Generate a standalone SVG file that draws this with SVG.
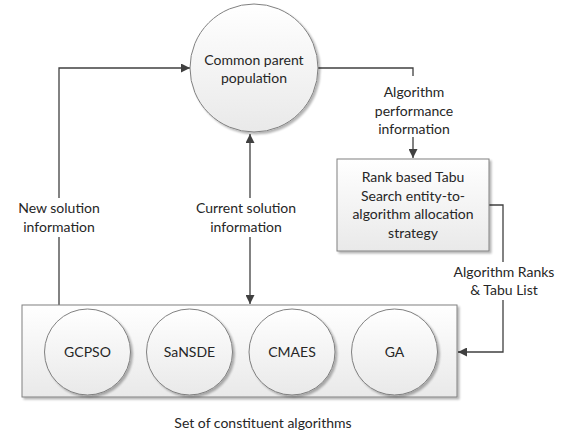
<svg xmlns="http://www.w3.org/2000/svg" width="564" height="436" viewBox="0 0 564 436">
<defs>
<linearGradient id="g" x1="0" y1="0" x2="0" y2="1">
<stop offset="0" stop-color="#ffffff"/>
<stop offset="1" stop-color="#e9e9e9"/>
</linearGradient>
<filter id="sh" x="-10%" y="-10%" width="130%" height="130%">
<feGaussianBlur in="SourceAlpha" stdDeviation="1.2"/>
<feOffset dx="1.5" dy="1.5" result="b"/>
<feComponentTransfer><feFuncA type="linear" slope="0.3"/></feComponentTransfer>
<feMerge><feMergeNode/><feMergeNode in="SourceGraphic"/></feMerge>
</filter>
<marker id="ah" viewBox="0 0 10 10" refX="10" refY="5" markerWidth="9" markerHeight="9" markerUnits="userSpaceOnUse" orient="auto-start-reverse">
<path d="M0,0 L10,5 L0,10 z" fill="#404040"/>
</marker>
</defs>
<style>
.shape{fill:url(#g);stroke:#808080;stroke-width:1;filter:url(#sh)}
.ln{fill:none;stroke:#404040;stroke-width:1.3}
text{font-family:Lato,"Liberation Sans",sans-serif;font-size:14px;fill:#262626;text-anchor:middle}
</style>
<rect width="564" height="436" fill="#ffffff"/>

<g id="connectors">
<path class="ln" d="M59,305 V68 H190" marker-end="url(#ah)"/>
<path class="ln" d="M250,134 V304" marker-start="url(#ah)" marker-end="url(#ah)"/>
<path class="ln" d="M318,68 H413 V158" marker-end="url(#ah)"/>
<path class="ln" d="M489,205 H503 V352 H458" marker-end="url(#ah)"/>
<rect x="10" y="198" width="98" height="39" fill="#ffffff"/>
<rect x="190" y="198" width="112" height="39" fill="#ffffff"/>
<rect x="370" y="76" width="88" height="61" fill="#ffffff"/>
<rect x="450" y="262" width="108" height="38" fill="#ffffff"/>
<text x="59" y="213">New solution</text>
<text x="59" y="232">information</text>
<text x="246" y="213">Current solution</text>
<text x="246" y="232">information</text>
<text x="414" y="97">Algorithm</text>
<text x="414" y="116">performance</text>
<text x="414" y="134">information</text>
<text x="504" y="277">Algorithm Ranks</text>
<text x="504" y="295">&amp; Tabu List</text>
</g>

<g id="parent">
<circle class="shape" cx="254" cy="68" r="64"/>
<text x="254" y="65">Common parent</text>
<text x="254" y="83">population</text>
</g>

<g id="tabu">
<rect class="shape" x="337" y="159" width="152" height="92"/>
<text x="413" y="182">Rank based Tabu</text>
<text x="413" y="201">Search entity-to-</text>
<text x="413" y="219">algorithm allocation</text>
<text x="413" y="238">strategy</text>
</g>

<g id="algorithms">
<rect class="shape" x="22" y="305" width="435" height="92"/>
<text x="263" y="428">Set of constituent algorithms</text>
</g>
<g id="gcpso">
<circle class="shape" cx="87.5" cy="352" r="43"/>
<text x="87.5" y="357">GCPSO</text>
</g>
<g id="sansde">
<circle class="shape" cx="189.5" cy="352" r="43"/>
<text x="189.5" y="357">SaNSDE</text>
</g>
<g id="cmaes">
<circle class="shape" cx="292" cy="352" r="43"/>
<text x="292" y="357">CMAES</text>
</g>
<g id="ga">
<circle class="shape" cx="394.5" cy="352" r="43"/>
<text x="394.5" y="357">GA</text>
</g>
</svg>
